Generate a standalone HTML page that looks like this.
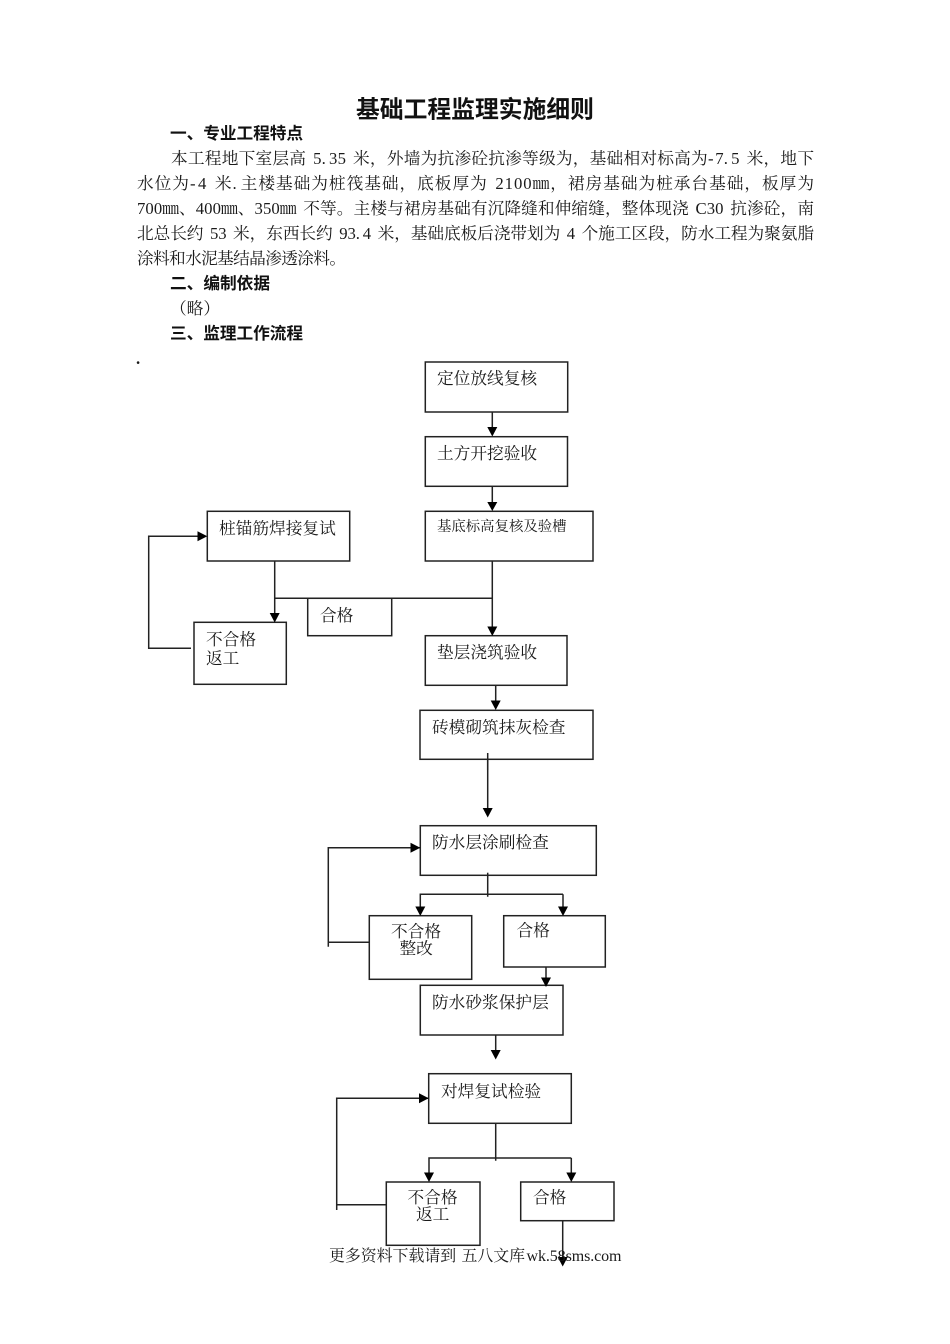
<!DOCTYPE html>
<html lang="zh">
<head>
<meta charset="utf-8">
<style>
html,body{margin:0;padding:0;background:#fff;width:950px;height:1344px;overflow:hidden}
svg{display:block}
text{fill:#1a1a1a;font-family:"Liberation Serif","Noto Serif CJK SC",serif;font-size:16.7px}
.h{font-family:"Liberation Sans","Noto Sans CJK SC",sans-serif;font-weight:700;fill:#111}
.p{word-spacing:2.5px}
.d{letter-spacing:3px}
.n{letter-spacing:1.5px}
.b{fill:#fff;stroke:#222;stroke-width:1.5}
.l{fill:none;stroke:#222;stroke-width:1.5}
.a{fill:#000}
</style>
</head>
<body>
<svg width="950" height="1344" viewBox="0 0 950 1344" xmlns="http://www.w3.org/2000/svg">
<text class="h" x="356" y="117.500" style="font-size:23.8px">基础工程监理实施细则</text>
<text class="h" x="170" y="139" textLength="133">一、专业工程特点</text>
<text class="p" x="171" y="164" textLength="643">本工程地下室层高 5<tspan class="d">.</tspan>35 米，外墙为抗渗砼抗渗等级为，基础相对标高为<tspan class="n">-</tspan>7<tspan class="d">.</tspan>5 米，地下</text>
<text class="p" x="137" y="189" textLength="677">水位为<tspan class="n">-</tspan>4 米<tspan class="d">.</tspan>主楼基础为桩筏基础，底板厚为 2100㎜，裙房基础为桩承台基础，板厚为</text>
<text class="p" x="137" y="214" textLength="677">700㎜、400㎜、350㎜ 不等。主楼与裙房基础有沉降缝和伸缩缝，整体现浇 C30 抗渗砼，南</text>
<text class="p" x="137" y="239" textLength="677">北总长约 53 米，东西长约 93<tspan class="d">.</tspan>4 米，基础底板后浇带划为 4 个施工区段，防水工程为聚氨脂</text>
<text x="137" y="264" textLength="209">涂料和水泥基结晶渗透涂料。</text>
<text class="h" x="170" y="289" textLength="100">二、编制依据</text>
<text x="170" y="314">（略）</text>
<text class="h" x="170" y="339" textLength="133">三、监理工作流程</text>
<text x="136" y="364" style="font-weight:700">.</text>

<!-- connectors -->
<path class="l" d="M492.3 412V428M492.3 486V503M492.3 561V627M274.7 561V614M274.7 598.3H492.3M191 648.3H148.7V536.3H198M495.7 685V701M487.7 753V808M420 847.7H328.3V946.7M328.3 942.3H369.3M487.7 872.7V896.7M563 894.3H420.3V907M563 894.3V907M546 967V978M495.7 1035V1050M428 1098.3H336.7V1210M336.7 1204.7H386.3M495.7 1123V1160.7M571.3 1158H429V1173M571.3 1158V1173M562.7 1220V1257"/>

<!-- boxes -->
<rect class="b" x="425.3" y="362" width="142.4" height="50"/>
<rect class="b" x="425.3" y="436.7" width="142.2" height="49.6"/>
<rect class="b" x="425.3" y="511.3" width="167.7" height="49.7"/>
<rect class="b" x="207.3" y="511.3" width="142.4" height="49.7"/>
<rect class="b" x="307.7" y="598.3" width="84" height="37.4"/>
<rect class="b" x="194" y="622.3" width="92.3" height="62"/>
<rect class="b" x="425.3" y="635.7" width="141.7" height="49.6"/>
<rect class="b" x="420" y="710.3" width="173" height="49"/>
<path class="l" d="M487.7 753V770"/>
<rect class="b" x="420.3" y="825.7" width="176" height="49.6"/>
<path class="l" d="M487.7 872.7V876"/>
<rect class="b" x="369.3" y="915.7" width="102.4" height="63.6"/>
<rect class="b" x="503.7" y="915.7" width="101.6" height="51.3"/>
<rect class="b" x="420.3" y="985.3" width="142.7" height="49.7"/>
<rect class="b" x="428.7" y="1073.7" width="142.6" height="49.6"/>
<rect class="b" x="386.3" y="1182" width="93.7" height="63.3"/>
<rect class="b" x="520.7" y="1182" width="93.3" height="38.7"/>

<!-- arrowheads -->
<path class="a" d="M487.3 427H497.3L492.3 436.500ZM487.3 502H497.3L492.3 511ZM487.3 626.500H497.3L492.3 636ZM269.7 613H279.7L274.7 622.500ZM490.7 700.500H500.7L495.7 710ZM482.7 808H492.7L487.7 817.500ZM197.500 531.300V541.300L207.3 536.3ZM410.500 842.7V852.7L420.3 847.7ZM415.3 906.500H425.3L420.3 916ZM558 906.500H568L563 916ZM541 977.500H551L546 987ZM490.7 1050H500.7L495.7 1059.500ZM419 1093.3V1103.3L428.7 1098.3ZM424 1172.500H434L429 1182ZM566.3 1172.500H576.3L571.3 1182ZM557.7 1257H567.7L562.7 1266.500Z"/>

<!-- labels -->
<text x="437" y="384">定位放线复核</text>
<text x="437" y="459">土方开挖验收</text>
<text x="437" y="531" style="font-size:14.4px">基底标高复核及验槽</text>
<text x="219" y="534">桩锚筋焊接复试</text>
<text x="320" y="621">合格</text>
<text x="206" y="645">不合格</text>
<text x="206" y="664">返工</text>
<text x="437" y="658">垫层浇筑验收</text>
<text x="432" y="733">砖模砌筑抹灰检查</text>
<text x="432" y="848">防水层涂刷检查</text>
<text x="391" y="937">不合格</text>
<text x="399.500" y="954">整改</text>
<text x="516.500" y="936">合格</text>
<text x="432" y="1008">防水砂浆保护层</text>
<text x="441" y="1097">对焊复试检验</text>
<text x="407.500" y="1203">不合格</text>
<text x="416" y="1220">返工</text>
<text x="533" y="1203">合格</text>
<text x="329" y="1261" style="font-size:15.9px">更多资料下载请到</text>
<text x="461.500" y="1261" style="font-size:15.9px">五八文库</text>
<text x="526.500" y="1261" style="font-size:16px" textLength="95">wk.58sms.com</text>
</svg>
</body>
</html>
